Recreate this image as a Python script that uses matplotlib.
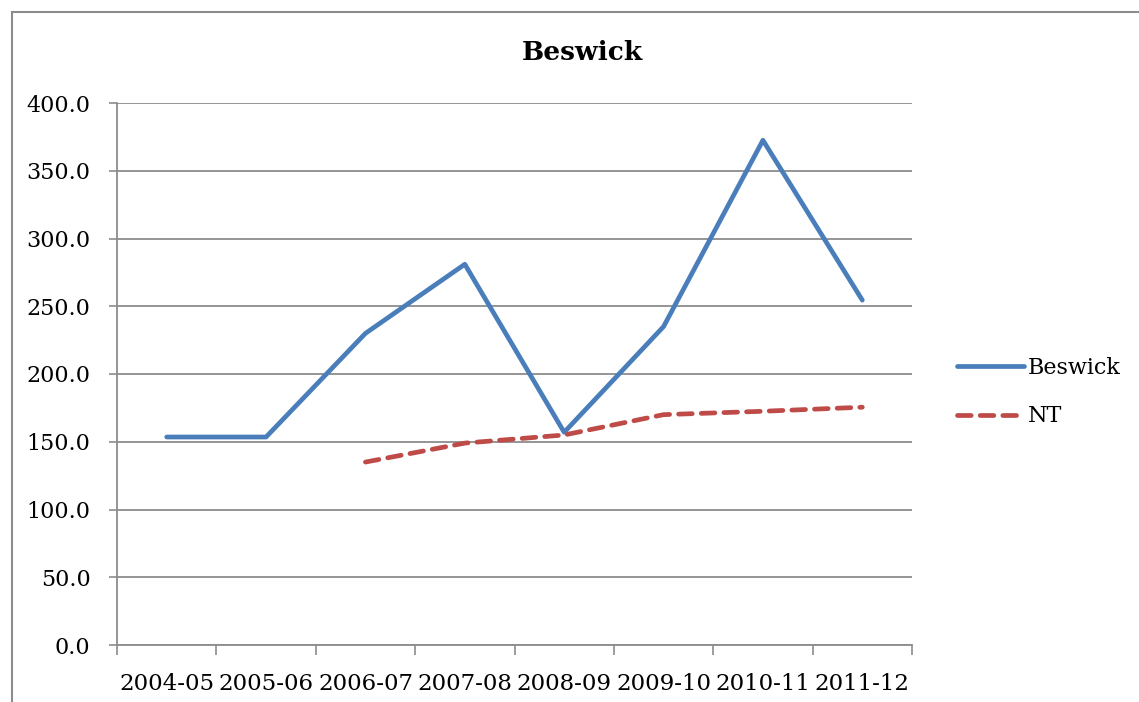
import matplotlib.pyplot as plt
from matplotlib.patches import Rectangle
import numpy as np

years = ["2004-05", "2005-06", "2006-07", "2007-08", "2008-09", "2009-10", "2010-11", "2011-12"]
beswick = [153.5, 153.5, 230.0, 281.0, 157.0, 235.0, 372.5, 254.5]
nt = [np.nan, np.nan, 135.0, 149.0, 155.0, 170.0, 172.5, 175.5]

plt.rcParams['font.family'] = ['DejaVu Serif']

fig = plt.figure(figsize=(11.39, 7.02), dpi=100)
ax = fig.add_axes([117 / 1139, 1 - 645 / 702, (912 - 117) / 1139, (645 - 103) / 702])

# chart border
fig.patches.append(Rectangle((12 / 1139, -0.1), 1.2, 1 - 12 / 702 + 0.1,
                             transform=fig.transFigure, fill=False,
                             edgecolor='#8c8c8c', linewidth=1.5))

x = np.arange(len(years))
ax.plot(x, beswick, color='#4a7ebb', linewidth=3.4, label='Beswick', solid_capstyle='round')
ax.plot(x, nt, color='#be4b48', linewidth=3.4, linestyle=(0, (2.9, 1.9)),
        dash_capstyle='round', label='NT')

ax.set_xlim(-0.5, len(years) - 0.5)
ax.set_ylim(0, 400)
ax.set_yticks(np.arange(0, 401, 50))
ax.set_yticklabels([f"{v:.1f}" for v in np.arange(0, 401, 50)])
ax.set_xticks(x)
ax.set_xticklabels(years)
ax.set_xticks(np.arange(-0.5, len(years)), minor=True)
ax.tick_params(axis='x', which='major', length=0, pad=20, labelsize=16.5)
ax.tick_params(axis='x', which='minor', length=7, color='#8c8c8c', width=1.2)
ax.tick_params(axis='y', length=6, color='#8c8c8c', width=1.2, labelsize=16, pad=13)

ax.grid(axis='y', color='#8c8c8c', linewidth=1.3)
ax.set_axisbelow(True)
for s in ['top', 'right']:
    ax.spines[s].set_visible(False)
for s in ['left', 'bottom']:
    ax.spines[s].set_color('#8c8c8c')
    ax.spines[s].set_linewidth(1.3)

fig.text(582 / 1139, 1 - 52 / 702, "Beswick", ha='center', va='center',
         fontsize=19, fontweight='bold')

ax.legend(loc='center left', bbox_to_anchor=(937 / 1139, 1 - 392 / 702),
          bbox_transform=fig.transFigure, frameon=False, fontsize=16,
          handlelength=3.0, handletextpad=0.2, labelspacing=1.2)

fig.savefig("out.png", dpi=100)
